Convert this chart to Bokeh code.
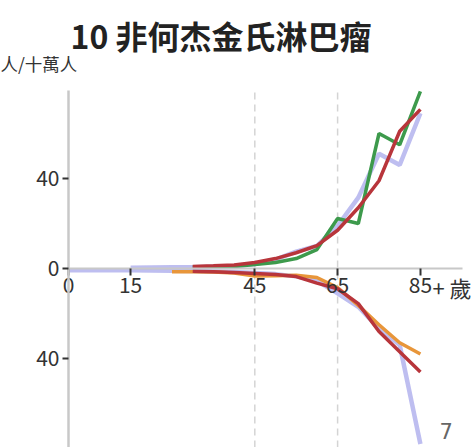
from bokeh.plotting import figure
from bokeh.models import Range1d, FixedTicker, Label
from bokeh.embed import file_html
from bokeh.resources import INLINE

nan = float("nan")

# age groups (5-year bands, 85 = 85+)
ages = [0, 5, 10, 15, 20, 25, 30, 35, 40, 45, 50, 55, 60, 65, 70, 75, 80, 85]

# upper half (per 100,000)
lav_up = [nan, nan, nan, 0.3, 0.4, 0.5, 0.6, 0.8, 1.0, 2.0, 4.0, 7.5, 10.0, 19.0, 31.5, 51.0, 46.0, 69.0]
green_up = [nan, nan, nan, nan, nan, nan, 0.6, 0.5, 0.9, 1.8, 2.7, 4.4, 8.4, 22.2, 20.0, 60.0, 55.0, 78.7]
red_up = [nan, nan, nan, nan, nan, nan, 0.9, 1.2, 1.6, 2.7, 4.4, 7.0, 10.2, 17.0, 27.0, 39.0, 61.0, 70.7]

# lower half (per 100,000, drawn downward)
lav_dn = [0.8, 0.8, 0.8, 0.8, 0.9, 1.0, 1.1, 1.3, 1.6, 2.0, 2.5, 3.5, 5.5, 11.0, 17.0, 26.7, 34.0, 78.0]
orange_dn = [nan, nan, nan, nan, nan, 1.4, 1.5, 1.6, 2.0, 3.3, 3.2, 3.0, 4.0, 8.5, 16.4, 25.0, 33.0, 38.0]
red_dn = [nan, nan, nan, nan, nan, nan, 1.2, 1.4, 1.8, 2.2, 2.7, 3.6, 6.5, 9.0, 15.6, 28.0, 37.0, 46.0]

x_ticks = [0, 15, 45, 65, 85]
x_tick_labels = ["0", "15", "45", "65", "85"]
y_ticks = [-40, 0, 40]
y_tick_labels = ["40", "0", "40"]
grid_ages = [45, 65]

x_axis_extent = (0, 95.2)
y_axis_extent = (-79.6, 79.1)

title_text = "10 非何杰金氏淋巴瘤"
unit_text = "人/十萬人"
age_suffix = "+ 歲"
corner_text = "7"

LAV = "#b7b7ee"
GREEN = "#3d9a4c"
RED = "#b8353b"
ORANGE = "#e8963a"
TXT = "#333333"
FONT = "Noto Sans CJK TC"

W, H = 475, 447
p = figure(width=W, height=H, output_backend="svg", toolbar_location=None,
           x_range=Range1d(-16.43, 98.31), y_range=Range1d(-79.56, 119.11),
           min_border=0)
p.outline_line_color = None
p.background_fill_color = "white"
p.border_fill_color = "white"

# dashed reference lines at 45 and 65
p.xgrid.grid_line_color = None
p.ygrid.grid_line_color = None
p.segment(x0=grid_ages, x1=grid_ages,
          y0=[y_axis_extent[0]] * len(grid_ages), y1=[y_axis_extent[1]] * len(grid_ages),
          line_color="#d4d4d4", line_dash="7 5", line_width=1.5)

# x axis at zero
xa = p.xaxis[0]
xa.fixed_location = 0
xa.bounds = x_axis_extent
xa.ticker = FixedTicker(ticks=x_ticks)
xa.major_label_overrides = {t: l for t, l in zip(x_ticks, x_tick_labels)}
xa.axis_line_color = "#c8c8c8"
xa.axis_line_width = 2
xa.major_tick_line_color = "#333333"
xa.major_tick_line_width = 2
xa.major_tick_out = 7
xa.major_tick_in = 0
xa.minor_tick_line_color = None
xa.major_label_text_font = FONT
xa.major_label_text_font_size = "21px"
xa.major_label_text_color = TXT
xa.major_label_standoff = 2

# y axis at zero
ya = p.yaxis[0]
ya.fixed_location = 0
ya.bounds = y_axis_extent
ya.ticker = FixedTicker(ticks=y_ticks)
ya.major_label_overrides = {t: l for t, l in zip(y_ticks, y_tick_labels)}
ya.axis_line_color = "#c8c8c8"
ya.axis_line_width = 2.5
ya.major_tick_line_color = "#333333"
ya.major_tick_line_width = 2
ya.major_tick_out = 6
ya.major_tick_in = 0
ya.minor_tick_line_color = None
ya.major_label_text_font = FONT
ya.major_label_text_font_size = "21px"
ya.major_label_text_color = TXT
ya.major_label_standoff = 3

neg = lambda arr: [-v for v in arr]

p.line(ages, lav_up, line_color=LAV, line_width=4.5, line_alpha=0.9)
p.line(ages, neg(lav_dn), line_color=LAV, line_width=4.5, line_alpha=0.9)
p.line(ages, neg(orange_dn), line_color=ORANGE, line_width=3.5)
p.line(ages, green_up, line_color=GREEN, line_width=3.5)
p.line(ages, red_up, line_color=RED, line_width=3.5)
p.line(ages, neg(red_dn), line_color=RED, line_width=3.5)

p.add_layout(Label(x=x_ticks[-1], y=0, x_offset=12, y_offset=-3, text=age_suffix,
                   text_font=FONT, text_font_size="22px", text_color=TXT,
                   text_baseline="top", text_align="left"))

p.add_layout(Label(x=70, y=H - 34, x_units="screen", y_units="screen", text=title_text,
                   text_font=FONT, text_font_size="32px", text_font_style="bold",
                   text_color="#222222", text_baseline="middle", text_align="left"))
p.add_layout(Label(x=0, y=H - 63, x_units="screen", y_units="screen", text=unit_text,
                   text_font=FONT, text_font_size="17.5px", text_color=TXT,
                   text_baseline="middle", text_align="left"))
p.add_layout(Label(x=439, y=9, x_units="screen", y_units="screen", text=corner_text,
                   text_font="DejaVu Sans", text_font_size="21px", text_color="#666666",
                   text_baseline="bottom", text_align="left"))

open("out.html", "w").write(file_html(p, INLINE))
